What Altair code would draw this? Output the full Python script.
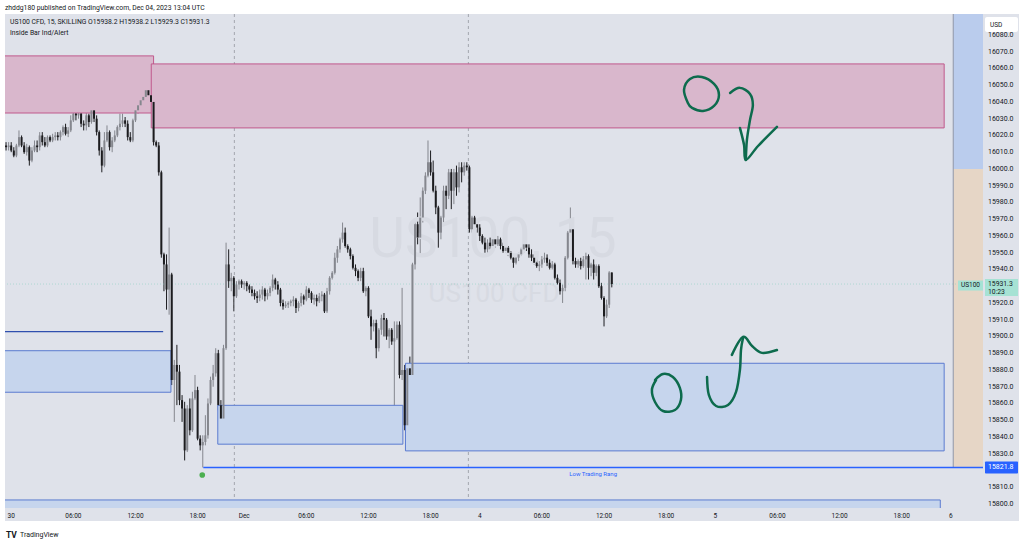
import altair as alt
import pandas as pd

FONT = "Roboto"
TXT = "#131722"
UP = "#85878e"
DOWN = "#1c1c1f"
BG = "#dfe2ea"

# ---------------- candle data (15 min bars, index 0 = 30 Nov 00:00) ----------------
bar_start = -2
opens = [
    16014, 16013, 16014, 16011, 16008, 16014, 16019, 16014, 16010, 16013,
    16005, 16011, 16014, 16013, 16020, 16016, 16014, 16019, 16017, 16019,
    16020, 16019, 16022, 16025, 16021, 16023, 16029, 16033, 16032, 16033,
    16027, 16026, 16032, 16028, 16035, 16030, 16022, 16011, 16002, 16017,
    16022, 16013, 16017, 16020, 16025, 16027, 16029, 16027, 16019, 16017,
    16029, 16035, 16038, 16041, 16043, 16047, 16044, 16040, 16016, 16014,
    15998, 15949, 15943, 15928, 15937, 15874, 15883, 15879, 15862, 15857,
    15832, 15857, 15844, 15863, 15868, 15839, 15835, 15837, 15841, 15860,
    15874, 15878, 15890, 15859, 15851, 15893, 15943, 15933, 15935, 15924,
    15931, 15933, 15931, 15932, 15930, 15928, 15926, 15924, 15923, 15925,
    15928, 15924, 15926, 15929, 15934, 15931, 15928, 15920, 15918, 15919,
    15920, 15921, 15922, 15917, 15920, 15924, 15922, 15928, 15926, 15922,
    15923, 15921, 15924, 15925, 15915, 15927, 15935, 15938, 15947, 15952,
    15958, 15962, 15954, 15952, 15948, 15941, 15939, 15935, 15939, 15927,
    15929, 15912, 15906, 15908, 15893, 15904, 15911, 15910, 15900, 15904,
    15897, 15899, 15907, 15877, 15880, 15847, 15881, 15877, 15943, 15967,
    15959, 15971, 15987, 15996, 16004, 15998, 15987, 15977, 15962, 15971,
    15987, 15984, 15998, 15987, 15998, 15989, 16001, 15998, 16002, 16001,
    15964, 15971, 15967, 15965, 15960, 15956, 15952, 15956, 15954, 15958,
    15955, 15958, 15954, 15951, 15953, 15950, 15947, 15944, 15947, 15949,
    15952, 15955, 15953, 15949, 15947, 15944, 15942, 15943, 15946, 15947,
    15944, 15941, 15943, 15935, 15932, 15927, 15929, 15947, 15962, 15964,
    15945, 15943, 15945, 15942, 15946, 15948, 15941, 15943, 15938, 15942,
    15930, 15923, 15912, 15919, 15938.2,
]
highs = [
    16016, 16016, 16016, 16013, 16015, 16023, 16020, 16016, 16015, 16014,
    16013, 16017, 16017, 16022, 16022, 16019, 16020, 16020, 16021, 16022,
    16022, 16023, 16026, 16027, 16025, 16032, 16035, 16035, 16035, 16034,
    16029, 16034, 16033, 16036, 16036, 16032, 16023, 16013, 16022, 16026,
    16023, 16019, 16023, 16026, 16033, 16033, 16031, 16029, 16022, 16030,
    16037, 16039, 16043, 16045, 16048, 16050, 16046, 16041, 16017, 16016,
    15999, 15950, 15949, 15965, 15938, 15886, 15895, 15883, 15865, 15861,
    15859, 15863, 15867, 15877, 15870, 15841, 15841, 15853, 15863, 15876,
    15883, 15893, 15892, 15862, 15895, 15956, 15952, 15938, 15936, 15933,
    15934, 15934, 15933, 15933, 15931, 15930, 15928, 15927, 15928, 15930,
    15929, 15928, 15930, 15937, 15935, 15933, 15929, 15922, 15921, 15921,
    15922, 15924, 15923, 15921, 15926, 15925, 15930, 15929, 15927, 15925,
    15925, 15926, 15927, 15926, 15929, 15936, 15939, 15950, 15954, 15959,
    15968, 15965, 15955, 15953, 15949, 15943, 15940, 15941, 15941, 15930,
    15930, 15916, 15910, 15910, 15905, 15913, 15914, 15911, 15905, 15905,
    15909, 15909, 15909, 15929, 15883, 15883, 15888, 15944, 15970, 15974,
    15983, 15989, 15998, 16017, 16011, 16005, 15990, 15978, 15972, 15990,
    15990, 16000, 16000, 16000, 16002, 16004, 16004, 16004, 16004, 16002,
    15972, 15972, 15968, 15967, 15961, 15959, 15958, 15959, 15960, 15959,
    15960, 15959, 15956, 15954, 15954, 15951, 15949, 15949, 15950, 15953,
    15957, 15958, 15955, 15952, 15949, 15947, 15945, 15948, 15950, 15949,
    15946, 15945, 15944, 15937, 15934, 15931, 15948, 15963, 15977, 15965,
    15947, 15946, 15947, 15948, 15950, 15949, 15944, 15946, 15943, 15943,
    15932, 15924, 15922, 15939, 15938.2,
]
lows = [
    16011, 16011, 16010, 16007, 16007, 16013, 16013, 16009, 16008, 16002,
    16004, 16010, 16010, 16011, 16014, 16013, 16013, 16016, 16016, 16017,
    16017, 16017, 16020, 16020, 16019, 16022, 16028, 16029, 16030, 16025,
    16023, 16023, 16025, 16027, 16028, 16020, 16008, 15998, 16001, 16016,
    16011, 16010, 16016, 16019, 16023, 16025, 16025, 16017, 16016, 16016,
    16028, 16033, 16036, 16039, 16042, 16042, 16038, 16014, 16013, 15996,
    15947, 15927, 15916, 15913, 15871, 15849, 15859, 15859, 15849, 15826,
    15831, 15841, 15843, 15862, 15838, 15832, 15821.8, 15835, 15839, 15859,
    15870, 15876, 15856, 15848, 15848, 15892, 15929, 15927, 15915, 15923,
    15928, 15929, 15928, 15927, 15926, 15924, 15922, 15920, 15921, 15922,
    15921, 15922, 15924, 15927, 15928, 15925, 15918, 15916, 15917, 15917,
    15918, 15918, 15914, 15915, 15918, 15919, 15921, 15923, 15920, 15919,
    15918, 15920, 15921, 15914, 15914, 15925, 15934, 15937, 15944, 15950,
    15956, 15953, 15950, 15946, 15940, 15936, 15933, 15933, 15926, 15924,
    15911, 15898, 15903, 15887, 15891, 15901, 15900, 15898, 15893, 15895,
    15842, 15898, 15875, 15874, 15844, 15845, 15869, 15875, 15940, 15955,
    15949, 15968, 15985, 15995, 15996, 15986, 15973, 15953, 15958, 15968,
    15976, 15982, 15976, 15979, 15984, 15986, 15992, 15996, 15999, 15962,
    15962, 15964, 15962, 15957, 15955, 15950, 15950, 15952, 15953, 15953,
    15954, 15952, 15950, 15950, 15948, 15946, 15941, 15943, 15945, 15948,
    15950, 15951, 15947, 15945, 15943, 15941, 15939, 15941, 15944, 15942,
    15940, 15940, 15934, 15931, 15925, 15920, 15927, 15946, 15960, 15943,
    15941, 15941, 15940, 15941, 15934, 15934, 15936, 15934, 15936, 15929,
    15922, 15906, 15911, 15917, 15929.3,
]
closes = [
    16013, 16014, 16011, 16008, 16014, 16019, 16014, 16010, 16013, 16005,
    16011, 16014, 16013, 16020, 16016, 16014, 16019, 16017, 16019, 16020,
    16019, 16022, 16025, 16021, 16023, 16029, 16033, 16032, 16033, 16027,
    16026, 16032, 16028, 16035, 16030, 16022, 16011, 16002, 16017, 16022,
    16013, 16017, 16020, 16025, 16027, 16029, 16027, 16019, 16017, 16029,
    16035, 16038, 16041, 16043, 16047, 16044, 16040, 16016, 16014, 15998,
    15949, 15943, 15928, 15937, 15874, 15883, 15879, 15862, 15857, 15832,
    15857, 15844, 15863, 15868, 15839, 15835, 15837, 15841, 15860, 15874,
    15878, 15890, 15859, 15851, 15893, 15943, 15933, 15935, 15924, 15931,
    15933, 15931, 15932, 15930, 15928, 15926, 15924, 15923, 15925, 15928,
    15924, 15926, 15929, 15934, 15931, 15928, 15920, 15918, 15919, 15920,
    15921, 15922, 15917, 15920, 15924, 15922, 15928, 15926, 15922, 15923,
    15921, 15924, 15925, 15915, 15927, 15935, 15938, 15947, 15952, 15958,
    15962, 15954, 15952, 15948, 15941, 15939, 15935, 15939, 15927, 15929,
    15912, 15906, 15908, 15893, 15904, 15911, 15910, 15900, 15904, 15897,
    15899, 15907, 15877, 15880, 15847, 15881, 15877, 15943, 15967, 15959,
    15971, 15987, 15996, 16004, 15998, 15987, 15977, 15962, 15971, 15987,
    15984, 15998, 15987, 15998, 15989, 16001, 15998, 16002, 16001, 15964,
    15971, 15967, 15965, 15960, 15956, 15952, 15956, 15954, 15958, 15955,
    15958, 15954, 15951, 15953, 15950, 15947, 15944, 15947, 15949, 15952,
    15955, 15953, 15949, 15947, 15944, 15942, 15943, 15946, 15947, 15944,
    15941, 15943, 15935, 15932, 15927, 15929, 15947, 15962, 15964, 15945,
    15943, 15945, 15942, 15946, 15948, 15941, 15943, 15938, 15942, 15930,
    15923, 15912, 15919, 15938.2, 15931.3,
]

# ---------------- axis labels ----------------
tick_idx = [0, 24, 48, 72, 90, 114, 138, 162, 181, 205, 229, 253, 272, 296, 320, 344, 363]
tick_txt = ["30", "06:00", "12:00", "18:00", "Dec", "06:00", "12:00", "18:00", "4",
            "06:00", "12:00", "18:00", "5", "06:00", "12:00", "18:00", "6"]
price_ticks = [15800, 15810, 15820, 15830, 15840, 15850, 15860, 15870, 15880, 15890,
               15900, 15910, 15920, 15930, 15940, 15950, 15960, 15970, 15980, 15990,
               16000, 16010, 16020, 16030, 16040, 16050, 16060, 16070, 16080]

# ---------------- drawings ----------------
zone_kind = ["supply", "supply", "demand", "demand", "demand", "demand"]
zone_x1 = [-6, 54.1, -6, 79.8, 152.3, -6]
zone_x2 = [55.0, 360.4, 61.7, 151.3, 360.4, 358.9]
zone_top = [16067.5, 16062.7, 15891.5, 15858.9, 15884.0, 15802.4]
zone_bot = [16033.4, 16024.5, 15866.7, 15835.7, 15831.7, 15780.0]

level_x1 = [-6]
level_x2 = [58.7]
level_price = [15902.9]

low_range_x1 = [74.2]
low_range_x2 = [380]
low_range_price = [15821.8]
low_range_text = ["Low Trading Rang"]
low_range_text_x = [224.8]
low_range_text_price = [15818.0]

pivot_x = [73.8]
pivot_price = [15817.3]

session_breaks = [86.2, 176.6]

strip_kind = ["upper", "lower"]
strip_x1 = [363.9, 363.9]
strip_x2 = [380, 380]
strip_top = [16110, 16000]
strip_bot = [16000, 15821.8]

doodle_stroke = (["a"] * 10 + ["b1"] * 7 + ["b2"] * 5 + ["c"] * 10 + ["d1"] * 8 + ["d2"] * 5)
doodle_x = [261.4, 259.9, 262.2, 266.8, 271.5, 273.4, 271.5, 267.2, 263.0, 261.4,
            277.7, 281.5, 285.4, 286.5, 285.4, 284.2, 283.8,
            281.5, 283.1, 283.8, 288.5, 295.8,
            248.7, 251.8, 255.6, 258.3, 258.7, 256.4, 251.8, 248.7, 247.5, 249.1,
            268.8, 269.5, 272.3, 276.9, 280.0, 281.5, 281.9, 282.7,
            278.4, 282.7, 286.2, 290.0, 295.8]
doodle_price = [16039.4, 16047.2, 16053.7, 16054.9, 16050.8, 16044.2, 16037.6, 16034.6, 16036.4, 16039.4,
                16045.4, 16048.4, 16044.8, 16038.2, 16029.3, 16017.3, 16005.4,
                16024.5, 16014.3, 16005.4, 16013.7, 16025.1,
                15874.0, 15877.6, 15875.8, 15869.3, 15862.1, 15856.1, 15855.5, 15860.9, 15868.1, 15874.0,
                15875.8, 15865.1, 15858.5, 15859.1, 15866.9, 15880.0, 15891.9, 15899.1,
                15889.0, 15899.7, 15894.3, 15890.2, 15891.9]

symbol = "US100"
interval = "15"
desc = "US100 CFD"
broker = "SKILLING"
countdown = "10:23"
published = "zhddg180 published on TradingView.com, Dec 04, 2023 13:04 UTC"
indicator = "Inside Bar Ind/Alert"

# ---------------- frames ----------------
bars = pd.DataFrame({
    "i": list(range(bar_start, bar_start + len(opens))),
    "o": opens, "h": highs, "l": lows, "c": closes,
})
bars["dir"] = ["up" if c >= o else "down" for o, c in zip(opens, closes)]

zones_df = pd.DataFrame({"kind": zone_kind, "x1": zone_x1, "x2": zone_x2, "top": zone_top, "bot": zone_bot})
strip_df = pd.DataFrame({"kind": strip_kind, "x1": strip_x1, "x2": strip_x2, "top": strip_top, "bot": strip_bot})
level_df = pd.DataFrame({"x1": level_x1, "x2": level_x2, "p": level_price})
low_df = pd.DataFrame({"x1": low_range_x1, "x2": low_range_x2, "p": low_range_price})
low_txt_df = pd.DataFrame({"x": low_range_text_x, "p": low_range_text_price, "t": low_range_text})
dot_df = pd.DataFrame({"x": pivot_x, "p": pivot_price})
sess_df = pd.DataFrame({"x": session_breaks})
doodle_df = pd.DataFrame({"s": doodle_stroke, "x": doodle_x, "p": doodle_price, "k": list(range(len(doodle_x)))})
last_df = pd.DataFrame({"p": [closes[-1]], "t": [f"{closes[-1]:.1f}"], "cd": [countdown], "sym": [symbol]})
lowlab_df = pd.DataFrame({"p": low_range_price, "t": [f"{low_range_price[0]:.1f}"]})
xlab_df = pd.DataFrame({"i": tick_idx, "t": tick_txt})
# price-scale labels hidden under the live-price and low-range badges (as TradingView does)
badges = [closes[-1], low_range_price[0]]
shown_ticks = [p for p in price_ticks if all(abs(p - b) >= 6 for b in badges)]
ylab_df = pd.DataFrame({"p": shown_ticks, "t": [f"{p:.1f}" for p in shown_ticks]})
one = pd.DataFrame({"k": [0]})

W, H = 978, 494
xs = alt.Scale(domain=[-2.4, 375.4], nice=False, zero=False, padding=0)
ys = alt.Scale(domain=[15797.6, 16092.5], nice=False, zero=False, padding=0)

# right strip
strip_up = alt.Chart(strip_df).transform_filter("datum.kind == 'upper'").mark_rect(color="#bacced", clip=True).encode(
    x=alt.X("x1:Q", scale=xs, axis=None), x2="x2:Q",
    y=alt.Y("top:Q", scale=ys, axis=None), y2="bot:Q")
strip_lo = alt.Chart(strip_df).transform_filter("datum.kind == 'lower'").mark_rect(color="#e6d6c6", clip=True).encode(
    x=alt.X("x1:Q", scale=xs, axis=None), x2="x2:Q",
    y=alt.Y("top:Q", scale=ys, axis=None), y2="bot:Q")
strip_edge = alt.Chart(strip_df).transform_aggregate(x1="min(x1)", top="max(top)", bot="min(bot)").mark_rule(
    color="#8f96a8", strokeWidth=1, clip=True).encode(
    x=alt.X("x1:Q", scale=xs, axis=None), y=alt.Y("top:Q", scale=ys, axis=None), y2="bot:Q")

# watermark
wm1 = alt.Chart(one).mark_text(font=FONT, fontSize=55, color="#d7dae2", align="center", baseline="alphabetic").encode(
    x=alt.value(488), y=alt.value(243), text=alt.value(f"{symbol}, {interval}"))
wm2 = alt.Chart(one).mark_text(font=FONT, fontSize=26, color="#d7dae2", align="center", baseline="alphabetic").encode(
    x=alt.value(489), y=alt.value(288), text=alt.value(desc))

sess = alt.Chart(sess_df).mark_rule(color="#a3a6ae", strokeDash=[3, 3], strokeWidth=1).encode(
    x=alt.X("x:Q", scale=xs, axis=None))

supply = alt.Chart(zones_df).transform_filter("datum.kind == 'supply'").mark_rect(
    fill="#d9b7cc", stroke="#c0598c", strokeWidth=1, clip=True).encode(
    x=alt.X("x1:Q", scale=xs, axis=None), x2="x2:Q",
    y=alt.Y("top:Q", scale=ys, axis=None), y2="bot:Q")
demand = alt.Chart(zones_df).transform_filter("datum.kind == 'demand'").mark_rect(
    fill="#c6d5ed", stroke="#5b7bd0", strokeWidth=1, clip=True).encode(
    x=alt.X("x1:Q", scale=xs, axis=None), x2="x2:Q",
    y=alt.Y("top:Q", scale=ys, axis=None), y2="bot:Q")

level = alt.Chart(level_df).mark_rule(color="#2f4fae", strokeWidth=1.2, clip=True).encode(
    x=alt.X("x1:Q", scale=xs, axis=None), x2="x2:Q", y=alt.Y("p:Q", scale=ys, axis=None))
low_line = alt.Chart(low_df).mark_rule(color="#2962ff", strokeWidth=1.5, clip=True).encode(
    x=alt.X("x1:Q", scale=xs, axis=None), x2="x2:Q", y=alt.Y("p:Q", scale=ys, axis=None))
low_txt = alt.Chart(low_txt_df).mark_text(font=FONT, fontSize=6, color="#2962ff", align="center", baseline="middle").encode(
    x=alt.X("x:Q", scale=xs, axis=None), y=alt.Y("p:Q", scale=ys, axis=None), text="t:N")

price_line = alt.Chart(last_df).mark_rule(color="#7fcdbb", strokeDash=[1, 2], strokeWidth=1, opacity=0.5).encode(
    y=alt.Y("p:Q", scale=ys, axis=None))

cscale = alt.Scale(domain=["up", "down"], range=[UP, DOWN])
wicks = alt.Chart(bars).mark_rule(strokeWidth=1, clip=True).encode(
    x=alt.X("i:Q", scale=xs, axis=None), y=alt.Y("l:Q", scale=ys, axis=None), y2="h:Q",
    color=alt.Color("dir:N", scale=cscale, legend=None))
bodies = alt.Chart(bars).mark_bar(width=2, clip=True).encode(
    x=alt.X("i:Q", scale=xs, axis=None), y=alt.Y("o:Q", scale=ys, axis=None), y2="c:Q",
    color=alt.Color("dir:N", scale=cscale, legend=None))

dot = alt.Chart(dot_df).mark_circle(size=32, color="#4caf50", opacity=1).encode(
    x=alt.X("x:Q", scale=xs, axis=None), y=alt.Y("p:Q", scale=ys, axis=None))

doodles = alt.Chart(doodle_df).mark_line(color="#0d6b4d", strokeWidth=2.5, interpolate="cardinal",
                                          strokeCap="round", strokeJoin="round").encode(
    x=alt.X("x:Q", scale=xs, axis=None), y=alt.Y("p:Q", scale=ys, axis=None),
    detail="s:N", order="k:Q")

# white outer margins
def margin(x1, x2, y1, y2):
    return alt.Chart(one).mark_rect(color="white").encode(
        x=alt.value(x1), x2=alt.value(x2), y=alt.value(y1), y2=alt.value(y2))

m_top = margin(-5, 1019, -14, 0)
m_left = margin(-5, 0, -14, 530)
m_bot = margin(-5, 1019, 507, 530)
m_right = margin(1014, 1019, -14, 530)

# axis labels (time axis below, price scale on the right)
xlab = alt.Chart(xlab_df).mark_text(font=FONT, fontSize=6.5, color=TXT, align="center", baseline="middle").encode(
    x=alt.X("i:Q", scale=xs, axis=None), y=alt.value(H + 8), text="t:N")
ylab = alt.Chart(ylab_df).mark_text(font=FONT, fontSize=7, color=TXT, align="left", baseline="middle").encode(
    x=alt.value(W + 5), y=alt.Y("p:Q", scale=ys, axis=None), text="t:N")

# price scale boxes
usd_box = alt.Chart(one).mark_rect(color="white", cornerRadius=2).encode(
    x=alt.value(980), x2=alt.value(1013), y=alt.value(3), y2=alt.value(18))
usd_txt = alt.Chart(one).mark_text(font=FONT, fontSize=6.5, color=TXT, align="left", baseline="middle").encode(
    x=alt.value(985), y=alt.value(10.5), text=alt.value("USD"))

teal = "#a6e2d4"
last_box = alt.Chart(last_df).transform_calculate(top="datum.p + 3.0", bot="datum.p - 7.1").mark_rect(color=teal).encode(
    x=alt.value(980), x2=alt.value(1013), y=alt.Y("top:Q", scale=ys, axis=None), y2="bot:Q")
last_txt = alt.Chart(last_df).mark_text(font=FONT, fontSize=6.8, color=TXT, align="left", baseline="middle", dy=-0.5).encode(
    x=alt.value(983), y=alt.Y("p:Q", scale=ys, axis=None), text="t:N")
last_cd = alt.Chart(last_df).mark_text(font=FONT, fontSize=6.8, color=TXT, align="left", baseline="middle", dy=7.5).encode(
    x=alt.value(983), y=alt.Y("p:Q", scale=ys, axis=None), text="cd:N")
sym_box = alt.Chart(last_df).transform_calculate(top="datum.p + 2.1", bot="datum.p - 3.9").mark_rect(color=teal).encode(
    x=alt.value(953), x2=alt.value(978), y=alt.Y("top:Q", scale=ys, axis=None), y2="bot:Q")
sym_txt = alt.Chart(last_df).mark_text(font=FONT, fontSize=6.5, color=TXT, align="center", baseline="middle", dy=1).encode(
    x=alt.value(965.5), y=alt.Y("p:Q", scale=ys, axis=None), text="sym:N")

low_box = alt.Chart(lowlab_df).transform_calculate(top="datum.p + 3.6", bot="datum.p - 3.6").mark_rect(
    color="#2962ff", cornerRadius=1).encode(
    x=alt.value(980), x2=alt.value(1013), y=alt.Y("top:Q", scale=ys, axis=None), y2="bot:Q")
low_lab = alt.Chart(lowlab_df).mark_text(font=FONT, fontSize=7, color="white", align="left", baseline="middle").encode(
    x=alt.value(983), y=alt.Y("p:Q", scale=ys, axis=None), text="t:N")

# header / footer texts
def label(txt, x, y, size=6.8, weight="normal"):
    return alt.Chart(one).mark_text(font=FONT, fontSize=size, color=TXT, align="left", baseline="middle",
                                    fontWeight=weight).encode(
        x=alt.value(x), y=alt.value(y), text=alt.value(txt))

ohlc = (f"{desc}, {interval}, {broker}  O{opens[-1]:.1f}  H{highs[-1]:.1f}  "
        f"L{lows[-1]:.1f}  C{closes[-1]:.1f}")
h1 = label(published, 0, -6)
h2 = label(ohlc, 5, 8)
h3 = label(indicator, 5, 19)
f_logo = label("TV", 1, 521, size=8.5, weight="bold")
f_txt = label("TradingView", 15, 521, size=7)

chart = alt.layer(
    wicks, strip_up, strip_lo, strip_edge, wm1, wm2, sess, supply, demand, level, low_line, low_txt,
    price_line, bodies, dot, doodles,
    m_top, m_left, m_bot, m_right, xlab, ylab,
    usd_box, usd_txt, last_box, last_txt, last_cd, sym_box, sym_txt, low_box, low_lab,
    h1, h2, h3, f_logo, f_txt,
).properties(
    width=W, height=H, autosize=alt.AutoSizeParams(type="none"),
    padding={"left": 5, "top": 14, "right": 41, "bottom": 36},
    background=BG,
).configure_view(fill=BG, stroke=None)

chart.save("out.html", embed_options={"renderer": "svg", "actions": False})
